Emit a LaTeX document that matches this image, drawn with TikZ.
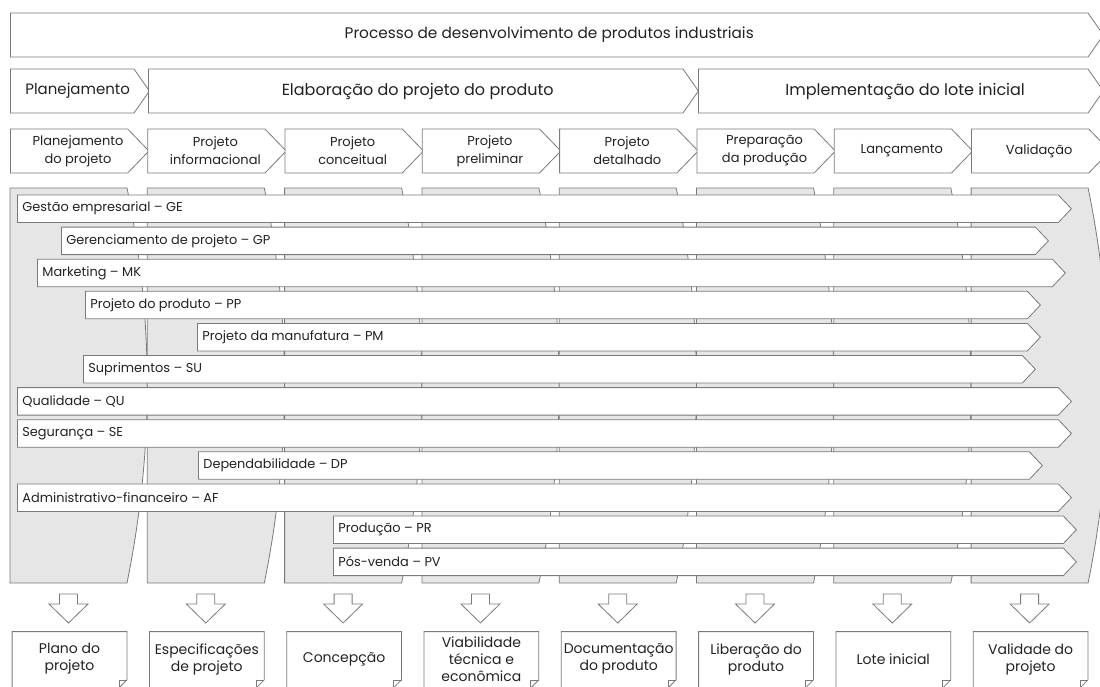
\documentclass[tikz,border=0pt]{standalone}
\usepackage{fontspec}
\setmainfont{Poppins}
\usetikzlibrary{shapes.symbols,positioning}

\definecolor{linec}{HTML}{7A7A7A}
\definecolor{panelc}{HTML}{E6E6E6}
\definecolor{txtc}{HTML}{222222}

\begin{document}
\begin{tikzpicture}[x=1pt,y=-1pt,line width=0.8pt,
    every node/.style={text=txtc},
    chev/.style={signal,signal to=east,signal from=nowhere,draw=linec,
        fill=white,inner sep=0pt,anchor=west},
    bigchev/.style 2 args={chev,minimum height=44pt,signal pointer angle=110,
        label={[xshift=#2,text=txtc,font=\fontsize{16}{19}\selectfont]center:#1}},
    phase/.style={chev,minimum height=44pt,minimum width=138.5pt,
        signal pointer angle=92,
        label={[xshift=9pt,align=center,text=txtc,
            font=\fontsize{13}{18}\selectfont]center:#1}},
    area/.style={chev,minimum height=27.5pt,signal pointer angle=93,
        label={[anchor=west,xshift=5pt,inner sep=0pt,text=txtc,
            font=\fontsize{12.9}{16}\selectfont]west:#1}},
    panel/.style={draw=linec,fill=panelc},
    outbox/.style={minimum width=114pt,minimum height=57pt,inner sep=0pt,
        align=center,font=\fontsize{14}{17}\selectfont},
    blockarr/.style={draw=linec,fill=white,line join=miter}]

  \useasboundingbox (0,0) rectangle (1100,686);

  % top levels
  \node[bigchev={\fontsize{15.3}{19}\selectfont
      Processo de desenvolvimento de produtos industriais}{0pt},
      minimum width=1093pt] (pdp) at (10,35) {};
  \node[bigchev={\fontsize{15}{19}\selectfont Planejamento}{5.5pt},
      minimum width=139pt] (plan) at (10,91) {};
  \node[bigchev={Elaboração do projeto do produto}{2pt},
      minimum width=550pt] (elab) at (148,91) {};
  \node[bigchev={Implementação do lote inicial}{12pt},
      minimum width=405pt] (impl) at (698,91) {};

  % phases
  \foreach \n/\i/\lab in {pp/0/Planejamento\\do projeto,
        pi/1/Projeto\\informacional,
        pc/2/Projeto\\conceitual,
        ppr/3/Projeto\\preliminar,
        pd/4/Projeto\\detalhado,
        ppp/5/Preparação\\da produção,
        lan/6/Lançamento,
        val/7/Validação}
    \node[phase=\lab] (\n) at ({10+137.3*\i},151) {};

  % gray panels
  \foreach \i in {0,...,7} {
    \pgfmathsetmacro\lx{10+137.3*\i}
    \draw[panel] (\lx,188) -- (\lx+117,188)
        .. controls +(27,132) and +(27,-133) .. (\lx+117,583)
        -- (\lx,583) -- cycle;
  }

  % knowledge areas
  \foreach \n/\x/\k/\t/\lab in {ge/17/0/1071/Gestão empresarial – GE,
        gp/61/1/1048/Gerenciamento de projeto – GP,
        mk/37/2/1065/Marketing – MK,
        prp/85/3/1040/Projeto do produto – PP,
        pm/197/4/1040/Projeto da manufatura – PM,
        su/83/5/1035/Suprimentos – SU,
        qu/17/6/1071/Qualidade – QU,
        se/17/7/1071/Segurança – SE,
        dp/198/8/1042/Dependabilidade – DP,
        af/17/9/1071/Administrativo-financeiro – AF,
        pr/333/10/1076/Produção – PR,
        pv/333/11/1076/Pós-venda – PV}
    \node[area=\lab,minimum width={(\t-\x)*1pt}] (\n) at (\x,{208.75+32.1*\k}) {};

  % outputs
  \foreach \i/\lab in {0/Plano do\\projeto,
        1/Especificações\\de projeto,
        2/Concepção,
        3/Viabilidade\\técnica e\\econômica,
        4/Documentação\\do produto,
        5/Liberação do\\produto,
        6/Lote inicial,
        7/Validade do\\projeto} {
    \node[outbox] (o\i) at ({69.5+137.3*\i},659) {\lab};
    \draw[linec] ([yshift=-1.5pt]o\i.north west) -- ([yshift=-1.5pt]o\i.north east)
        -- ([yshift=8pt]o\i.south east) -- ([xshift=-8pt]o\i.south east)
        -- (o\i.south west) -- cycle;
    \draw[linec] ([yshift=8pt]o\i.south east)
        -- ([xshift=-8pt,yshift=8pt]o\i.south east)
        -- ([xshift=-8pt]o\i.south east);
    \pgfmathsetmacro\cx{68.5+137.3*\i}
    \draw[blockarr] (\cx-9,594) -- (\cx+9,594) -- (\cx+9,604)
        -- (\cx+19.5,604) -- (\cx,623) -- (\cx-19.5,604)
        -- (\cx-9,604) -- cycle;
  }

\end{tikzpicture}
\end{document}
